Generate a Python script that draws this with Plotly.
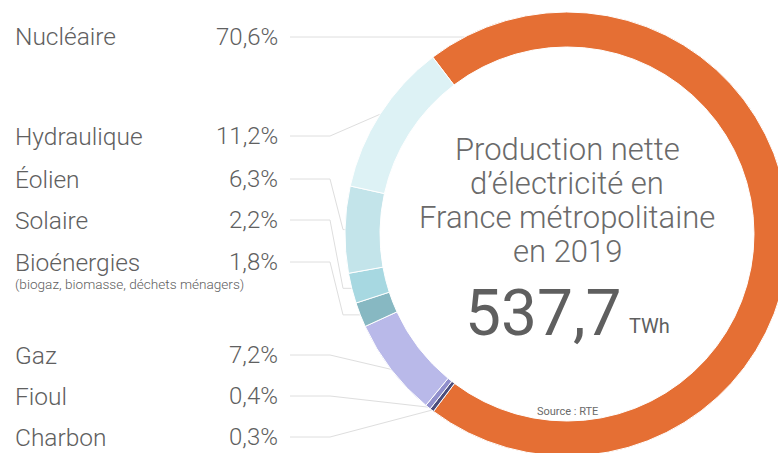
import numpy as np
import plotly.graph_objects as go

# Production nette d'électricité en France métropolitaine, 2019 (source RTE)
sources = ["Nucléaire", "Charbon", "Fioul", "Gaz", "Bioénergies", "Solaire", "Éolien", "Hydraulique"]
shares = [70.6, 0.3, 0.4, 7.2, 1.8, 2.2, 6.3, 11.2]
colors = ["#E56F34", "#4B4D7C", "#908FCC", "#B9B9E9", "#87B8C2", "#A7D8E1", "#C3E4EA", "#DDF2F5"]
list_order = ["Nucléaire", "Hydraulique", "Éolien", "Solaire", "Bioénergies", "Gaz", "Fioul", "Charbon"]
total_twh = 537.7

# page geometry (px); the ring runs a little past the right/bottom edge
W, H = 790, 460
cx, cy, R, r_in = 567, 234, 222, 187
rotation = -37.2
row_y = [37, 136, 179, 220, 262, 355, 396, 437]

grey = "#606060"
font = "Roboto"


def px(x):
    return x / W


def py(y):
    return 1 - y / H


def fmt(v):
    return ("%.1f" % v).replace(".", ",") + "%"


# mid angle of each slice, clockwise from 12 o'clock
starts = rotation + 360 * (np.cumsum(shares) - np.array(shares)) / 100
mids = starts + 360 * np.array(shares) / 200

fig = go.Figure()

# leader lines (drawn on a hidden pixel-space axis)
lx, ly = [], []
for name, y in zip(list_order, row_y):
    i = sources.index(name)
    th = np.radians(mids[i])
    rx, ry = cx + R * np.sin(th), cy - R * np.cos(th)
    if name == "Nucléaire":
        rx, ry = cx - np.sqrt(R ** 2 - (cy - y) ** 2), y
        pts = [(290, y), (rx, ry)]
    elif ry - y > 40:
        pts = [(290, y), (330, y), (343, ry), (rx, ry)]
    else:
        pts = [(290, y), (330, y), (rx, ry)]
    for p in pts:
        lx.append(p[0])
        ly.append(p[1])
    lx.append(None)
    ly.append(None)

fig.add_trace(go.Scatter(x=lx, y=ly, mode="lines", line=dict(color="#dedede", width=1),
                         hoverinfo="skip", showlegend=False))

fig.add_trace(go.Pie(
    labels=sources, values=shares, sort=False, direction="clockwise", rotation=rotation,
    hole=r_in / R, textinfo="none", hoverinfo="label+percent",
    marker=dict(colors=colors, line=dict(color="white", width=1)),
    domain=dict(x=[(cx - R) / W, (cx + R) / W], y=[(H - cy - R) / H, (H - cy + R) / H]),
    showlegend=False,
))

ann = []
for name, y in zip(list_order, row_y):
    v = shares[sources.index(name)]
    ann.append(dict(x=px(13), y=py(y), text=name, xanchor="left", yanchor="middle",
                    font=dict(size=24.5, color=grey, family=font, weight=300)))
    ann.append(dict(x=px(280), y=py(y), text=fmt(v), xanchor="right", yanchor="middle",
                    font=dict(size=24, color=grey, family=font, weight=300)))
ann.append(dict(x=px(13), y=py(284), text="(biogaz, biomasse, déchets ménagers)", xanchor="left",
                yanchor="middle", font=dict(size=13.6, color=grey, family=font, weight=300)))

title_lines = ["Production nette", "d’électricité en", "France métropolitaine", "en 2019"]
for t, y in zip(title_lines, [149, 183, 218, 252]):
    ann.append(dict(x=px(cx), y=py(y), text=t, xanchor="center", yanchor="middle",
                    font=dict(size=31, color="#6a6a6a", family=font, weight=300)))

ann.append(dict(x=px(543), y=py(313), text=("%.1f" % total_twh).replace(".", ","),
                xanchor="center", yanchor="middle",
                font=dict(size=64, color="#5f5f5f", family=font)))
ann.append(dict(x=px(627), y=py(326), text="TWh", xanchor="left", yanchor="middle",
                font=dict(size=20, color="#5f5f5f", family=font)))
ann.append(dict(x=px(cx), y=py(411), text="Source : RTE", xanchor="center", yanchor="middle",
                font=dict(size=11, color="#6a6a6a", family=font)))

for a in ann:
    a.update(xref="paper", yref="paper", showarrow=False)

fig.update_layout(
    width=W, height=H,
    margin=dict(l=0, r=0, t=0, b=0),
    paper_bgcolor="white", plot_bgcolor="white",
    xaxis=dict(range=[0, W], visible=False, fixedrange=True),
    yaxis=dict(range=[H, 0], visible=False, fixedrange=True),
    annotations=ann,
)

fig.write_html("out.html", config={"displayModeBar": False},
               post_script="document.body.style.margin='0';document.body.style.overflow='hidden';")
